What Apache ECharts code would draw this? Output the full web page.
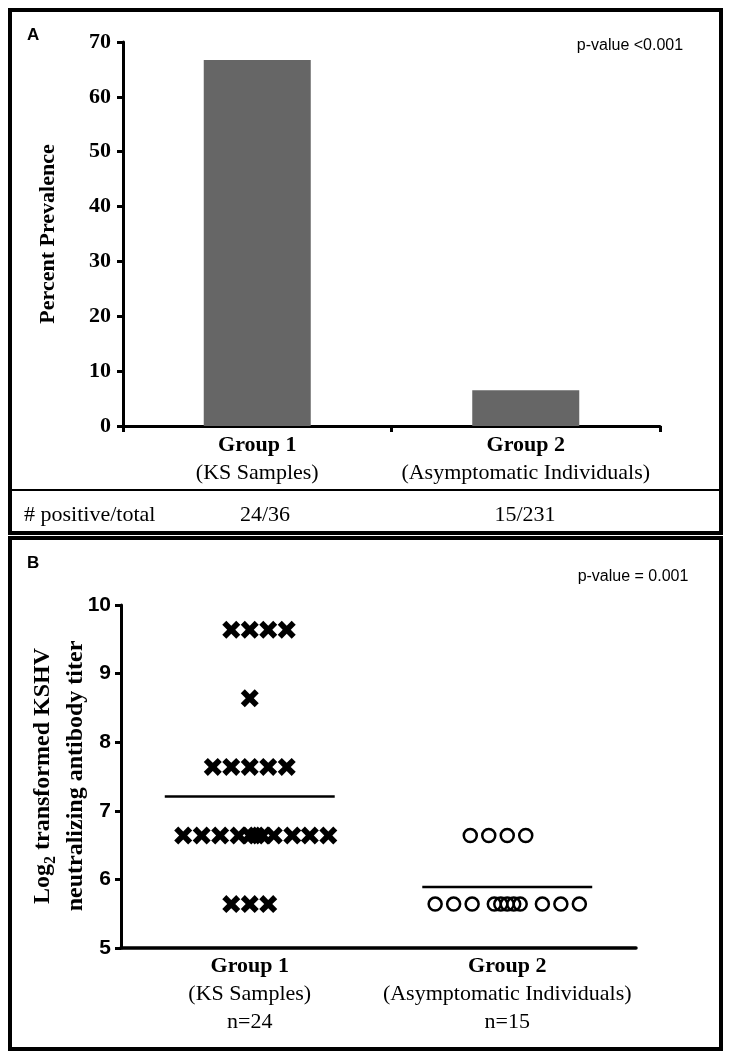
<!DOCTYPE html>
<html>
<head>
<meta charset="utf-8">
<script src="https://cdn.jsdelivr.net/npm/echarts@6/dist/echarts.min.js"></script>
<style>
html,body{margin:0;padding:0;background:#fff;}
#c{width:729px;height:1057px;}
</style>
</head>
<body>
<div id="c"></div>
<script>
// ---------- Panel A data ----------
const groupsA = ['Group 1', 'Group 2'];
const subLabelsA = ['(KS Samples)', '(Asymptomatic Individuals)'];
const prevalence = [66.7, 6.5];
const positiveTotal = ['24/36', '15/231'];
const pValueA = 'p-value <0.001';

// ---------- Panel B data ----------
const groupsB = ['Group 1', 'Group 2'];
const subLabelsB = ['(KS Samples)', '(Asymptomatic Individuals)'];
const nLabels = ['n=24', 'n=15'];
const g1Levels = [9.64, 8.64, 7.64, 6.64, 5.64];
const g1Columns = [
  [-1, 0, 1, 2],
  [0],
  [-2, -1, 0, 1, 2],
  [-3.6, -2.6, -1.6, -0.6, 0, 0.35, 0.7, 1.3, 2.3, 3.25, 4.25],
  [-1, 0, 1]
];
const g2Levels = [6.64, 5.64];
const g2Columns = [
  [-2, -1, 0, 1],
  [-3.9, -2.9, -1.9, -0.7, -0.35, 0, 0.35, 0.7, 1.9, 2.9, 3.9]
];
const groupMeans = [7.21, 5.89];
const pValueB = 'p-value = 0.001';

// ---------- build ----------
const colStep = 0.0718;
const meanHalf = 0.33;
function pts(center, levels, cols) {
  const out = [];
  levels.forEach((lv, i) => cols[i].forEach(c => out.push([center + c * colStep, lv])));
  return out;
}
const g1Pts = pts(1, g1Levels, g1Columns);
const g2Pts = pts(2, g2Levels, g2Columns);

const SERIF = 'Liberation Serif';
const SANS = 'Liberation Sans';
const crossPath = 'path://M0,4.5 L4.5,0 L10,5.5 L15.5,0 L20,4.5 L14.5,10 L20,15.5 L15.5,20 L10,14.5 L4.5,20 L0,15.5 L5.5,10 Z';

const chart = echarts.init(document.getElementById('c'), null, {renderer: 'canvas'});
chart.setOption({
  animation: false,
  backgroundColor: '#fff',
  grid: [
    {left: 123, right: 69, top: 42, bottom: 631, containLabel: false},
    {left: 121, right: 93, top: 605, bottom: 109, containLabel: false}
  ],
  xAxis: [
    {
      gridIndex: 0, type: 'category', data: groupsA, boundaryGap: true,
      axisLine: {lineStyle: {color: '#000', width: 3}},
      axisTick: {show: true, length: 6, lineStyle: {color: '#000', width: 3}},
      axisLabel: {
        margin: 5, color: '#000',
        formatter: (v, i) => '{b|' + v + '}\n{n|' + subLabelsA[i] + '}',
        rich: {
          b: {fontFamily: SERIF, fontWeight: 'bold', fontSize: 22, lineHeight: 28, color: '#000'},
          n: {fontFamily: SERIF, fontSize: 22, lineHeight: 28, color: '#000'}
        }
      }
    },
    {
      gridIndex: 1, type: 'value', min: 0.5, max: 2.5, interval: 0.5,
      axisLine: {lineStyle: {color: '#000', width: 3.5}},
      axisTick: {show: false},
      splitLine: {show: false},
      axisLabel: {
        margin: 4, color: '#000', showMinLabel: true, showMaxLabel: true,
        formatter: v => {
          const i = Math.round(v) - 1;
          if (Math.abs(v - Math.round(v)) > 1e-6 || i < 0 || i > 1) return '';
          return '{b|' + groupsB[i] + '}\n{n|' + subLabelsB[i] + '}\n{n|' + nLabels[i] + '}';
        },
        rich: {
          b: {fontFamily: SERIF, fontWeight: 'bold', fontSize: 22, lineHeight: 28, color: '#000'},
          n: {fontFamily: SERIF, fontSize: 22, lineHeight: 28, color: '#000'}
        }
      }
    }
  ],
  yAxis: [
    {
      gridIndex: 0, type: 'value', min: 0, max: 70, interval: 10,
      name: 'Percent Prevalence', nameLocation: 'middle', nameGap: 64,
      nameTextStyle: {fontFamily: SERIF, fontWeight: 'bold', fontSize: 22, color: '#000'},
      axisLine: {show: true, lineStyle: {color: '#000', width: 3}},
      axisTick: {show: true, length: 6, lineStyle: {color: '#000', width: 3}},
      splitLine: {show: false},
      axisLabel: {margin: 12, fontFamily: SERIF, fontWeight: 'bold', fontSize: 22, color: '#000'}
    },
    {
      gridIndex: 1, type: 'value', min: 5, max: 10, interval: 1,
      axisLine: {show: true, lineStyle: {color: '#000', width: 3}},
      axisTick: {show: true, length: 6, lineStyle: {color: '#000', width: 3}},
      splitLine: {show: false},
      axisLabel: {margin: 10, fontFamily: SANS, fontWeight: 'bold', fontSize: 21, color: '#000'}
    }
  ],
  series: [
    {
      type: 'bar', xAxisIndex: 0, yAxisIndex: 0, data: prevalence,
      barWidth: 107, itemStyle: {color: '#666666'}
    },
    {
      type: 'scatter', xAxisIndex: 1, yAxisIndex: 1, data: g1Pts,
      symbol: crossPath, symbolSize: 18, itemStyle: {color: '#000', opacity: 1}
    },
    {
      type: 'scatter', xAxisIndex: 1, yAxisIndex: 1, data: g2Pts,
      symbol: 'circle', symbolSize: 13,
      itemStyle: {color: 'rgba(0,0,0,0)', borderColor: '#000', borderWidth: 2.5, opacity: 1}
    },
    {
      type: 'line', xAxisIndex: 1, yAxisIndex: 1, symbol: 'none',
      data: [[1 - meanHalf, groupMeans[0]], [1 + meanHalf, groupMeans[0]]],
      lineStyle: {color: '#000', width: 2.5}
    },
    {
      type: 'line', xAxisIndex: 1, yAxisIndex: 1, symbol: 'none',
      data: [[2 - meanHalf, groupMeans[1]], [2 + meanHalf, groupMeans[1]]],
      lineStyle: {color: '#000', width: 2.5}
    }
  ],
  graphic: [
    {type: 'rect', shape: {x: 10, y: 10, width: 711, height: 523}, style: {fill: 'none', stroke: '#000', lineWidth: 4}},
    {type: 'line', shape: {x1: 10, y1: 490, x2: 721, y2: 490}, style: {stroke: '#000', lineWidth: 2}},
    {type: 'rect', shape: {x: 10, y: 538, width: 711, height: 511}, style: {fill: 'none', stroke: '#000', lineWidth: 4}},
    {type: 'text', x: 27, y: 35, style: {text: 'A', font: 'bold 17px ' + SANS, fill: '#000', verticalAlign: 'middle'}},
    {type: 'text', x: 27, y: 563, style: {text: 'B', font: 'bold 17px ' + SANS, fill: '#000', verticalAlign: 'middle'}},
    {type: 'text', x: 630, y: 46, style: {text: pValueA, font: '16px ' + SANS, fill: '#000', align: 'center', verticalAlign: 'middle'}},
    {type: 'text', x: 633, y: 577, style: {text: pValueB, font: '16px ' + SANS, fill: '#000', align: 'center', verticalAlign: 'middle'}},
    {type: 'text', x: 24, y: 515, style: {text: '# positive/total', font: '22px ' + SERIF, fill: '#000', verticalAlign: 'middle'}},
    {type: 'text', x: 265, y: 515, style: {text: positiveTotal[0], font: '22px ' + SERIF, fill: '#000', align: 'center', verticalAlign: 'middle'}},
    {type: 'text', x: 525, y: 515, style: {text: positiveTotal[1], font: '22px ' + SERIF, fill: '#000', align: 'center', verticalAlign: 'middle'}},
    {
      type: 'text', x: 59, y: 776, rotation: Math.PI / 2,
      style: {
        text: '{a|Log}{s|2}{a| transformed KSHV}\n{a|neutralizing antibody titer}',
        align: 'center', verticalAlign: 'middle', fill: '#000',
        rich: {
          a: {fontFamily: SERIF, fontWeight: 'bold', fontSize: 24, lineHeight: 33, fill: '#000'},
          s: {fontFamily: SERIF, fontWeight: 'bold', fontSize: 16, lineHeight: 16, verticalAlign: 'bottom', fill: '#000'}
        }
      }
    }
  ]
});
</script>
</body>
</html>
